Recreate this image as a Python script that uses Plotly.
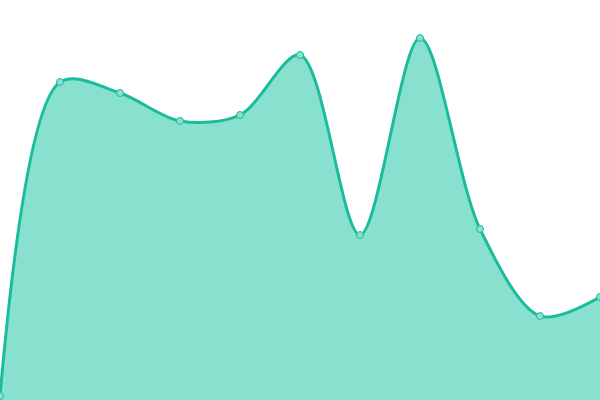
import plotly.graph_objects as go

x_values = [0, 1, 2, 3, 4, 5, 6, 7, 8, 9, 10]
y_values = [4, 318, 307, 279, 285, 345, 165, 362, 171, 84, 103]

fig = go.Figure()
fig.add_trace(go.Scatter(
    x=x_values, y=y_values,
    mode="lines+markers",
    fill="tozeroy",
    fillcolor="#88e0cf",
    line=dict(color="#1abc9c", width=3, shape="spline", smoothing=0.9),
    marker=dict(size=7, color="#8ddecd", line=dict(color="#1abc9c", width=1)),
    hoverinfo="skip",
))

fig.update_xaxes(visible=False, range=[0, 10], fixedrange=True)
fig.update_yaxes(visible=False, range=[0, 400], fixedrange=True)
fig.update_layout(
    width=600, height=400,
    margin=dict(l=0, r=0, t=0, b=0),
    paper_bgcolor="white", plot_bgcolor="white",
    showlegend=False,
)
# page body has a default 8px margin, drop it so the plot fills the window
fig.write_html("out.html", post_script="document.body.style.margin='0';",
               config={"displayModeBar": False})
